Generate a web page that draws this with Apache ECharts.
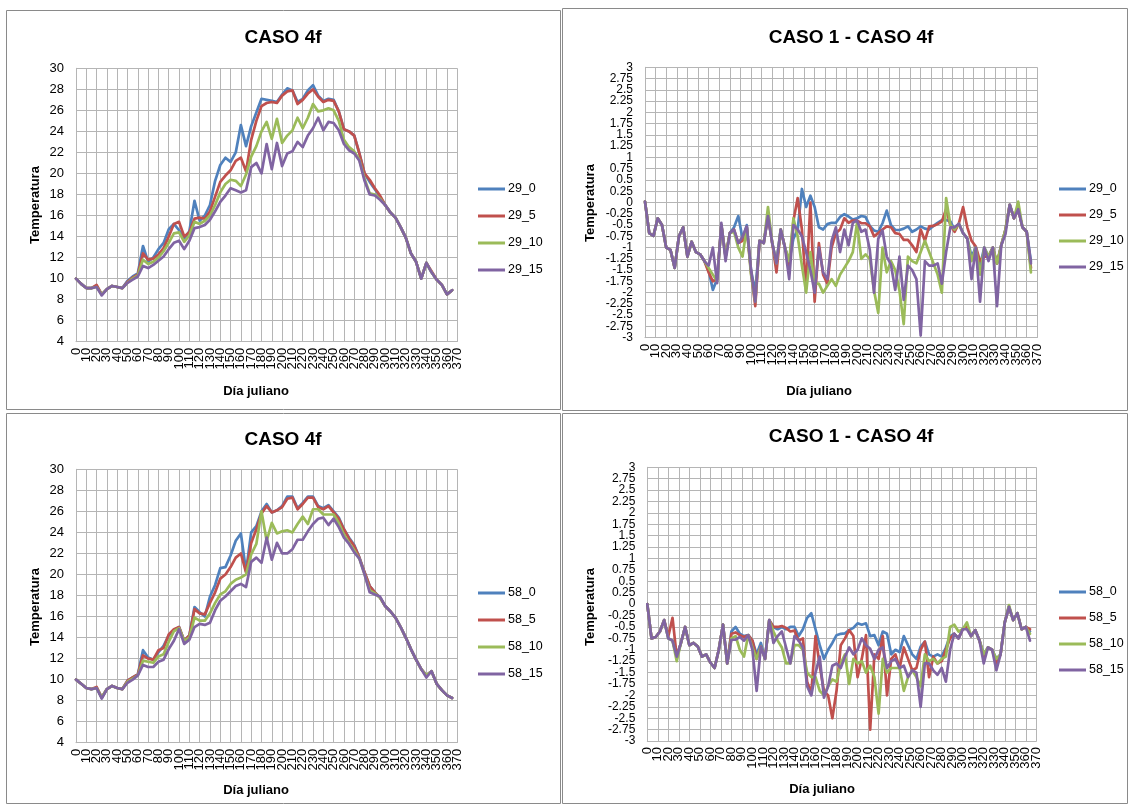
<!DOCTYPE html>
<html><head><meta charset="utf-8">
<script src="https://cdn.jsdelivr.net/npm/echarts@6/dist/echarts.min.js"></script>
<style>html,body{margin:0;padding:0;background:#fff}#c{width:1130px;height:805px}</style>
</head><body><div id="c"></div>
<script>
// ---------- DATA ----------
const daysT = [0,5,10,15,20,25,30,35,40,45,50,55,60,65,70,75,80,85,90,95,100,105,110,115,120,125,130,135,140,145,150,155,160,165,170,175,180,185,190,195,200,205,210,215,220,225,230,235,240,245,250,255,260,265,270,275,280,285,290,295,300,305,310,315,320,325,330,335,340,345,350,355,360,365];
const daysD = [0,4,8,12,16,20,24,28,32,36,40,44,48,52,56,60,64,68,72,76,80,84,88,92,96,100,104,108,112,116,120,124,128,132,136,140,144,148,152,156,160,164,168,172,176,180,184,188,192,196,200,204,208,212,216,220,224,228,232,236,240,244,248,252,256,260,264,268,272,276,280,284,288,292,296,300,304,308,312,316,320,324,328,332,336,340,344,348,352,356,360,364];

const names29 = ['29_0','29_5','29_10','29_15'];
const names58 = ['58_0','58_5','58_10','58_15'];
const xTicks = {min:0, max:370, interval:10};
const yTempTicks = {min:4, max:30, interval:2};
const yDiffTicks = {min:-3, max:3, interval:0.25};

// Top-left: CASO 4f (29_x)
const tl_29_0 = [10.0,9.5,9.1,9.1,9.3,8.5,9.0,9.3,9.2,9.1,
 9.8,10.2,10.5,13.1,11.6,12.0,12.8,13.4,14.7,15.2,
 14.6,13.8,14.5,17.4,15.5,16.0,17.0,19.3,20.8,21.5,
 21.1,22.0,24.6,22.6,24.5,25.8,27.1,27.0,26.9,26.8,
 27.5,28.1,27.9,26.8,27.1,27.9,28.4,27.4,26.9,27.1,
 27.0,25.9,24.2,24.0,23.6,21.9,20.0,19.2,18.5,17.8,
 17.0,16.3,15.8,14.9,13.9,12.4,11.6,10.0,11.5,10.6,
 9.9,9.4,8.5,8.9];
const tl_29_5 = [10.0,9.5,9.1,9.1,9.4,8.5,9.0,9.3,9.2,9.1,
 9.7,10.1,10.4,12.4,11.8,11.9,12.3,12.9,14.0,15.2,
 15.4,14.0,14.4,15.7,15.8,15.7,16.4,17.8,19.2,19.8,
 20.3,21.2,21.5,20.2,23.2,25.0,26.4,26.7,26.8,26.7,
 27.4,27.8,27.9,26.6,27.0,27.6,28.0,27.3,26.8,27.0,
 26.9,25.9,24.2,24.0,23.6,21.9,20.0,19.4,18.6,17.9,
 17.0,16.3,15.8,14.9,13.9,12.4,11.6,10.0,11.5,10.7,
 9.9,9.4,8.5,8.9];
const tl_29_10 = [10.0,9.5,9.1,9.1,9.2,8.5,9.0,9.3,9.2,9.1,
 9.6,10.0,10.3,11.8,11.4,11.6,12.0,12.6,13.4,14.3,
 14.4,13.5,14.1,15.4,15.2,15.5,16.0,17.0,18.2,19.0,
 19.4,19.3,18.8,19.9,21.6,22.6,24.0,24.9,23.3,25.2,
 22.9,23.6,24.1,25.3,24.3,25.3,26.6,25.9,26.0,26.2,
 26.0,25.0,23.2,22.5,22.1,21.3,19.5,18.1,18.0,17.6,
 17.0,16.3,15.8,14.9,13.9,12.4,11.6,10.0,11.5,10.6,
 9.9,9.4,8.5,8.9];
const tl_29_15 = [10.0,9.5,9.1,9.1,9.2,8.4,9.0,9.3,9.2,9.1,
 9.6,9.9,10.2,11.2,11.0,11.3,11.7,12.1,12.8,13.4,
 13.6,12.8,13.6,14.8,14.9,15.1,15.6,16.4,17.3,17.9,
 18.6,18.4,18.2,18.4,20.6,21.0,20.0,22.8,20.4,22.9,
 20.7,21.9,22.1,23.0,22.5,23.6,24.3,25.3,24.1,24.9,
 24.8,24.1,22.8,22.2,21.9,21.2,19.3,18.0,17.9,17.5,
 17.0,16.3,15.8,14.9,13.9,12.4,11.6,10.0,11.5,10.6,
 9.9,9.4,8.5,8.9];

// Top-right: CASO 1 - CASO 4f (29_x)
const tr_29_0 = [0.02,-0.68,-0.74,-0.35,-0.5,-1.0,-1.05,-1.45,-0.75,-0.55,
 -1.2,-0.87,-1.1,-1.15,-1.3,-1.5,-1.94,-1.7,-0.5,-1.2,
 -0.68,-0.55,-0.3,-0.8,-0.5,-1.5,-2.0,-0.85,-0.9,-0.3,
 -0.9,-1.35,-0.6,-1.0,-1.3,-0.8,-0.6,0.3,-0.1,0.15,
 -0.1,-0.55,-0.6,-0.48,-0.45,-0.45,-0.32,-0.26,-0.31,-0.38,
 -0.35,-0.3,-0.32,-0.52,-0.62,-0.65,-0.46,-0.18,-0.5,-0.61,
 -0.61,-0.58,-0.53,-0.65,-0.6,-0.53,-0.58,-0.6,-0.52,-0.45,
 -0.39,-0.39,-0.42,-0.6,-0.47,-0.68,-0.8,-1.2,-1.0,-1.4,
 -1.0,-1.2,-1.0,-1.35,-0.95,-0.6,-0.05,-0.35,-0.15,-0.55,
 -0.65,-1.3];
const tr_29_5 = [0.02,-0.68,-0.74,-0.35,-0.5,-1.0,-1.05,-1.45,-0.75,-0.55,
 -1.2,-0.87,-1.1,-1.15,-1.3,-1.55,-1.75,-1.7,-0.5,-1.2,
 -0.68,-0.6,-0.9,-0.85,-0.55,-1.55,-2.3,-0.85,-0.9,-0.3,
 -0.9,-1.55,-0.6,-1.0,-1.4,-0.4,0.1,-0.6,-1.9,0.0,
 -2.2,-0.9,-1.6,-1.8,-1.0,-0.68,-0.6,-0.35,-0.45,-0.4,
 -0.4,-0.46,-0.46,-0.53,-0.75,-0.68,-0.6,-0.53,-0.55,-0.68,
 -0.7,-0.83,-0.83,-0.95,-1.1,-0.6,-0.85,-0.53,-0.52,-0.48,
 -0.42,-0.15,-0.5,-0.65,-0.47,-0.1,-0.55,-0.85,-0.98,-1.3,
 -1.2,-1.2,-1.0,-1.35,-0.95,-0.6,-0.05,-0.35,-0.15,-0.55,
 -0.65,-1.45];
const tr_29_10 = [0.02,-0.68,-0.74,-0.35,-0.5,-1.0,-1.05,-1.45,-0.75,-0.55,
 -1.2,-0.87,-1.1,-1.15,-1.3,-1.45,-1.6,-1.75,-0.5,-1.2,
 -0.68,-0.65,-1.0,-1.2,-0.55,-1.6,-2.2,-0.85,-0.9,-0.1,
 -0.9,-1.35,-0.6,-1.0,-1.3,-0.35,-0.75,-1.4,-2.0,-1.1,
 -1.8,-1.8,-2.0,-1.85,-1.7,-1.85,-1.6,-1.45,-1.3,-1.1,
 -0.45,-1.25,-1.15,-1.25,-1.95,-2.45,-1.0,-1.55,-1.3,-1.5,
 -1.95,-2.7,-1.2,-1.3,-1.35,-1.1,-0.85,-1.1,-1.35,-1.6,
 -2.0,0.1,-0.5,-0.6,-0.47,-0.68,-0.8,-1.3,-1.0,-1.6,
 -1.0,-1.2,-1.0,-1.35,-0.95,-0.6,-0.05,-0.35,0.02,-0.55,
 -0.65,-1.55];
const tr_29_15 = [0.02,-0.68,-0.74,-0.35,-0.5,-1.0,-1.05,-1.45,-0.75,-0.55,
 -1.2,-0.87,-1.1,-1.15,-1.3,-1.4,-1.0,-1.79,-0.45,-1.3,
 -0.68,-0.6,-0.9,-0.76,-0.53,-1.5,-2.2,-0.85,-0.9,-0.3,
 -0.9,-1.35,-0.6,-1.0,-1.7,-0.5,-0.6,-0.75,-1.1,-1.5,
 -2.0,-1.0,-1.55,-1.7,-0.85,-0.55,-1.1,-0.6,-0.95,-0.45,
 -0.4,-0.65,-0.6,-1.05,-2.0,-0.8,-0.62,-1.2,-1.38,-1.94,
 -1.2,-2.16,-1.4,-1.5,-1.7,-2.95,-1.3,-1.4,-1.4,-1.35,
 -1.8,-1.1,-0.55,-0.55,-0.47,-0.68,-0.8,-1.7,-1.0,-2.2,
 -1.0,-1.3,-1.0,-2.3,-0.95,-0.7,-0.05,-0.35,-0.15,-0.55,
 -0.65,-1.35];

// Bottom-left: CASO 4f (58_x)
const bl_58_0 = [10.0,9.6,9.2,9.1,9.2,8.3,9.1,9.4,9.2,9.1,
 9.9,10.2,10.5,12.8,12.1,11.9,12.6,13.2,14.2,14.7,
 15.0,13.7,14.2,16.9,16.4,16.0,17.9,19.0,20.6,20.7,
 21.8,23.2,23.9,20.3,24.0,24.6,26.0,26.7,25.9,26.1,
 26.5,27.4,27.4,26.3,26.8,27.4,27.4,26.5,26.3,26.6,
 26.0,25.4,24.3,23.5,22.8,21.6,20.2,18.9,18.3,17.8,
 17.0,16.5,15.9,15.0,14.0,12.9,11.9,11.0,10.4,10.8,
 9.6,9.0,8.5,8.25];
const bl_58_5 = [10.0,9.6,9.2,9.1,9.3,8.3,9.1,9.4,9.2,9.1,
 9.9,10.2,10.5,12.3,12.0,11.9,12.8,13.0,14.3,14.8,
 15.0,13.7,14.2,16.7,16.3,16.2,17.3,18.3,19.6,20.0,
 20.7,21.6,22.0,20.2,23.0,24.3,25.8,26.5,25.9,26.1,
 26.4,27.2,27.3,26.2,26.7,27.3,27.3,26.4,26.2,26.5,
 25.9,25.3,24.3,23.4,22.7,21.6,20.2,18.9,18.3,17.8,
 17.0,16.5,15.9,15.0,14.0,12.9,11.9,11.0,10.4,10.8,
 9.6,9.0,8.5,8.25];
const bl_58_10 = [10.0,9.6,9.2,9.1,9.2,8.3,9.1,9.4,9.2,9.1,
 9.8,10.1,10.4,11.8,11.7,11.6,12.2,12.4,13.6,14.6,
 14.9,13.7,14.0,15.9,15.6,15.6,16.3,17.3,18.1,18.4,
 19.1,19.5,19.7,20.0,21.9,22.9,26.0,23.2,24.9,23.9,
 24.1,24.2,24.0,24.8,25.5,24.8,26.2,26.2,25.7,25.7,
 25.7,24.9,23.8,23.0,22.3,21.5,20.0,18.5,18.2,17.8,
 17.0,16.5,15.9,15.0,14.0,12.9,11.9,11.0,10.4,10.8,
 9.6,9.0,8.5,8.25];
const bl_58_15 = [10.0,9.6,9.2,9.1,9.2,8.2,9.1,9.4,9.2,9.1,
 9.7,10.0,10.4,11.4,11.2,11.2,11.7,11.9,12.9,13.7,
 14.8,13.4,13.8,15.0,15.3,15.2,15.4,16.6,17.5,17.9,
 18.4,18.9,19.1,18.8,21.2,21.6,21.1,23.5,21.4,23.0,
 22.0,22.0,22.4,23.3,23.3,24.1,24.8,25.3,25.4,24.7,
 25.3,24.5,23.5,22.9,22.1,21.5,20.0,18.3,18.1,17.9,
 17.0,16.5,15.9,15.0,14.0,12.9,11.9,11.0,10.2,10.8,
 9.6,9.0,8.5,8.25];

// Bottom-right: CASO 1 - CASO 4f (58_x)
const br_58_0 = [0.0,-0.75,-0.72,-0.6,-0.35,-0.75,-0.8,-1.15,-0.85,-0.5,
 -0.9,-0.85,-0.93,-1.15,-1.1,-1.28,-1.4,-1.0,-0.45,-1.3,
 -0.6,-0.5,-0.65,-0.7,-0.68,-0.8,-1.1,-0.85,-1.2,-0.35,
 -0.5,-0.55,-0.5,-0.55,-0.5,-0.5,-0.7,-0.55,-0.3,-0.2,
 -0.55,-0.9,-1.2,-1.0,-0.85,-0.68,-0.65,-0.64,-0.57,-0.52,
 -0.42,-0.45,-0.42,-0.7,-0.68,-0.9,-0.6,-0.65,-1.1,-1.0,
 -1.05,-0.7,-0.9,-1.1,-1.2,-0.93,-0.82,-1.1,-1.15,-1.1,
 -1.15,-0.95,-0.7,-0.65,-0.75,-0.55,-0.5,-0.7,-0.57,-0.8,
 -1.1,-0.95,-1.0,-1.2,-1.1,-0.4,-0.06,-0.35,-0.2,-0.55,
 -0.5,-0.6];
const br_58_5 = [0.0,-0.75,-0.72,-0.6,-0.35,-0.7,-0.3,-1.15,-0.85,-0.5,
 -0.9,-0.85,-0.93,-1.15,-1.1,-1.28,-1.4,-1.0,-0.45,-1.3,
 -0.65,-0.62,-0.68,-0.72,-0.68,-0.8,-1.2,-0.93,-1.2,-0.35,
 -0.5,-0.5,-0.48,-0.52,-0.6,-0.58,-0.8,-0.75,-1.7,-1.95,
 -0.7,-1.35,-1.9,-2.0,-2.5,-1.9,-0.9,-0.75,-0.57,-0.7,
 -1.6,-1.2,-0.68,-2.75,-1.1,-1.2,-0.7,-2.0,-1.2,-1.1,
 -1.4,-0.95,-1.2,-1.45,-1.4,-1.0,-0.82,-1.6,-1.15,-1.3,
 -1.25,-1.0,-0.75,-0.65,-0.75,-0.55,-0.5,-0.7,-0.57,-0.8,
 -1.15,-0.95,-1.0,-1.3,-1.1,-0.4,-0.06,-0.35,-0.2,-0.55,
 -0.5,-0.55];
const br_58_10 = [0.0,-0.75,-0.72,-0.6,-0.35,-0.75,-0.8,-1.25,-0.85,-0.5,
 -0.9,-0.85,-0.93,-1.15,-1.1,-1.28,-1.4,-1.0,-0.45,-1.3,
 -0.75,-0.7,-1.0,-1.15,-0.68,-0.95,-1.2,-0.93,-1.2,-0.35,
 -0.6,-0.8,-0.95,-1.3,-1.3,-0.9,-0.9,-1.0,-1.5,-1.6,
 -1.6,-1.9,-2.0,-1.8,-1.65,-1.7,-1.3,-1.1,-1.75,-1.2,
 -1.3,-1.25,-1.5,-1.35,-1.6,-2.4,-1.2,-1.5,-1.4,-1.4,
 -1.4,-1.9,-1.6,-1.45,-1.6,-1.8,-1.1,-1.25,-1.2,-1.3,
 -1.2,-1.15,-0.5,-0.45,-0.6,-0.55,-0.4,-0.7,-0.57,-0.8,
 -1.1,-0.95,-1.0,-1.2,-1.1,-0.4,-0.02,-0.35,-0.2,-0.55,
 -0.5,-0.65];
const br_58_15 = [0.0,-0.75,-0.72,-0.6,-0.35,-0.75,-0.8,-1.15,-0.85,-0.5,
 -0.9,-0.85,-0.93,-1.15,-1.1,-1.28,-1.4,-1.0,-0.45,-1.3,
 -0.78,-0.78,-0.72,-0.8,-0.68,-1.0,-1.9,-0.93,-1.2,-0.35,
 -0.85,-0.7,-0.6,-0.95,-1.3,-0.7,-0.8,-0.95,-1.8,-2.0,
 -1.5,-1.15,-2.05,-1.8,-1.35,-1.3,-1.4,-1.15,-0.95,-1.1,
 -1.0,-0.75,-0.9,-0.98,-1.2,-1.0,-0.95,-1.4,-1.25,-1.2,
 -1.4,-1.35,-1.6,-1.45,-1.5,-2.25,-1.3,-1.3,-1.45,-1.55,
 -1.4,-1.7,-1.0,-0.65,-0.75,-0.55,-0.55,-0.7,-0.57,-0.8,
 -1.3,-0.95,-1.0,-1.45,-1.1,-0.4,-0.06,-0.35,-0.2,-0.55,
 -0.5,-0.8];

// ---------- CHART ----------
const COLORS = ['#4F81BD','#C0504D','#9BBB59','#8064A2'];
const FONT = '"Liberation Sans", Arial, sans-serif';
const GRIDC = '#b5b5b5';

const panels = [
  {grid:{left:76, top:68.3, width:381.3, height:273.4}, days:daysT, names:names29, data:[tl_29_0,tl_29_5,tl_29_10,tl_29_15], y:yTempTicks, ySize:13,
   title:'CASO 4f', tx:283, ty:38, yName:[35,205], xName:[256,391], leg:{left:478, top:182, gap:13}, box:[6,10,554,399]},
  {grid:{left:645, top:67.3, width:392.3, height:270.4}, days:daysD, names:names29, data:[tr_29_0,tr_29_5,tr_29_10,tr_29_15], y:yDiffTicks, ySize:12,
   title:'CASO 1 - CASO 4f', tx:851, ty:38, yName:[590,203], xName:[819,391], leg:{left:1059, top:182, gap:12}, box:[562,8,565,402]},
  {grid:{left:76, top:469.3, width:381.3, height:273.4}, days:daysT, names:names58, data:[bl_58_0,bl_58_5,bl_58_10,bl_58_15], y:yTempTicks, ySize:13,
   title:'CASO 4f', tx:283, ty:440, yName:[35,607], xName:[256,790], leg:{left:478, top:586, gap:13}, box:[6,413,554,390]},
  {grid:{left:647.3, top:467.3, width:389, height:273.7}, days:daysD, names:names58, data:[br_58_0,br_58_5,br_58_10,br_58_15], y:yDiffTicks, ySize:12,
   title:'CASO 1 - CASO 4f', tx:851, ty:437, yName:[590,607], xName:[822,789], leg:{left:1059, top:585, gap:12}, box:[562,413,565,390]}
];

const option = {
  backgroundColor:'#fff', animation:false,
  grid:[], xAxis:[], yAxis:[], series:[], legend:[], graphic:[]
};

const xLabel = {rotate:90, fontSize:13, color:'#000', fontFamily:FONT, margin:6};
panels.forEach((p, i) => {
  option.grid.push(Object.assign({containLabel:false}, p.grid));
  const yLabel = {fontSize:p.ySize, color:'#000', fontFamily:FONT, margin:12};
  // main axes: grid lines + interior labels
  option.xAxis.push({
    gridIndex:i, type:'value', position:'bottom', min:xTicks.min, max:xTicks.max, interval:xTicks.interval,
    axisLine:{show:true, onZero:false, lineStyle:{color:GRIDC, width:1}},
    axisTick:{show:false},
    splitLine:{show:true, lineStyle:{color:GRIDC, width:1}},
    axisLabel:Object.assign({showMinLabel:false, showMaxLabel:false}, xLabel)
  });
  // companion axes: only the end labels (min and max)
  option.xAxis.push({
    gridIndex:i, type:'value', position:'bottom', min:xTicks.min, max:xTicks.max, interval:xTicks.max - xTicks.min,
    axisLine:{show:false, onZero:false}, axisTick:{show:false}, splitLine:{show:false},
    axisLabel:Object.assign({showMinLabel:true, showMaxLabel:true}, xLabel)
  });
  option.yAxis.push({
    gridIndex:i, type:'value', position:'left', min:p.y.min, max:p.y.max, interval:p.y.interval,
    axisLine:{show:true, onZero:false, lineStyle:{color:GRIDC, width:1}},
    axisTick:{show:false},
    splitLine:{show:true, lineStyle:{color:GRIDC, width:1}},
    axisLabel:Object.assign({showMinLabel:false, showMaxLabel:false}, yLabel)
  });
  option.yAxis.push({
    gridIndex:i, type:'value', position:'left', min:p.y.min, max:p.y.max, interval:p.y.max - p.y.min,
    axisLine:{show:false, onZero:false}, axisTick:{show:false}, splitLine:{show:false},
    axisLabel:Object.assign({showMinLabel:true, showMaxLabel:true}, yLabel)
  });
  p.data.forEach((arr, k) => {
    option.series.push({
      name:p.names[k], type:'line', xAxisIndex:2*i, yAxisIndex:2*i,
      data:p.days.map((d, j) => [d, arr[j]]),
      symbol:'none', showSymbol:false, smooth:false,
      lineStyle:{width:2.7, color:COLORS[k], cap:'round', join:'round'},
      itemStyle:{color:COLORS[k]}, z:2+k
    });
  });
  option.legend.push({
    data:p.names, orient:'vertical', left:p.leg.left, top:p.leg.top,
    itemWidth:27, itemHeight:3, itemGap:p.leg.gap, icon:'rect', padding:0,
    textStyle:{fontSize:12.5, color:'#000', fontFamily:FONT, lineHeight:14, padding:[0,0,0,-2]}
  });
  option.graphic.push(
    {type:'rect', shape:{x:p.box[0]+0.5, y:p.box[1]+0.5, width:p.box[2], height:p.box[3]},
     style:{fill:'none', stroke:'#8a8a8a', lineWidth:1}, z:-1, silent:true},
    {type:'text', x:p.tx, y:p.ty, style:{text:p.title, fill:'#000', font:'bold 19px ' + FONT, align:'center', verticalAlign:'middle'}},
    {type:'text', x:p.yName[0], y:p.yName[1], rotation:Math.PI/2, style:{text:'Temperatura', fill:'#000', font:'bold 13px ' + FONT, align:'center', verticalAlign:'middle'}},
    {type:'text', x:p.xName[0], y:p.xName[1], style:{text:'Día juliano', fill:'#000', font:'bold 13px ' + FONT, align:'center', verticalAlign:'middle'}}
  );
});

const chart = echarts.init(document.getElementById('c'), null, {renderer:'canvas', width:1130, height:805});
chart.setOption(option);
</script>
</body></html>
